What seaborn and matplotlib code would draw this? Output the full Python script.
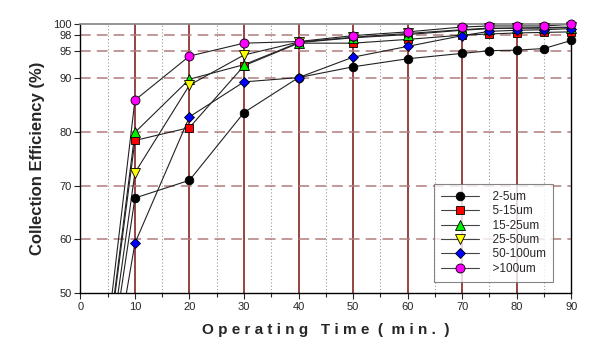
import numpy as np
import pandas as pd
import matplotlib
matplotlib.use("Agg")
import matplotlib.pyplot as plt
import seaborn as sns
from matplotlib.lines import Line2D

# operating time (min.), the curves start from (0, 0)
time = [0, 10, 20, 30, 40, 50, 60, 70, 75, 80, 85, 90]

eff_2_5 = [0, 67.7, 71.0, 83.6, 90.1, 92.1, 93.6, 94.6, 95.1, 95.2, 95.5, 97.0]
eff_5_15 = [0, 78.4, 80.8, 92.3, 96.5, 96.5, 97.2, 98.0, 98.2, 98.4, 98.5, 98.6]
eff_15_25 = [0, 79.9, 89.8, 92.5, 96.6, 97.5, 98.1, 98.9, 99.2, 99.3, 99.3, 99.4]
eff_25_50 = [0, 72.4, 88.7, 94.3, 96.7, 97.6, 98.3, 99.0, 99.3, 99.3, 99.4, 99.5]
eff_50_100 = [0, 59.3, 82.8, 89.3, 90.1, 93.9, 95.9, 97.9, 98.7, 98.9, 99.0, 99.2]
eff_100 = [0, 85.9, 94.1, 96.5, 96.8, 97.9, 98.6, 99.5, 99.7, 99.7, 99.7, 100.0]

labels = ["2-5um", "5-15um", "15-25um", "25-50um", "50-100um", ">100um"]
series = [eff_2_5, eff_5_15, eff_15_25, eff_25_50, eff_50_100, eff_100]
colors = ["black", "#ff0000", "#00ee00", "#ffff00", "#0000ff", "#ff00ff"]
markers = ["o", "s", "^", "v", "D", "o"]
sizes = [6.2, 5.6, 6.5, 6.5, 5.4, 6.5]

rows = []
for lab, vals in zip(labels, series):
    for t, v in zip(time, vals):
        rows.append({"time": t, "eff": v, "size": lab})
df = pd.DataFrame(rows)

sns.set_theme(style="white")
plt.rcParams["font.family"] = ["Liberation Sans", "DejaVu Sans"]

fig = plt.figure(figsize=(6, 3.58), dpi=100)
ax = fig.add_axes([0.134, 0.181, 0.818, 0.751])

# grid
for x in range(10, 90, 10):
    ax.axvline(x, color="#7a1010", lw=1.1, zorder=1)
for x in range(5, 90, 10):
    ax.axvline(x, color="#999999", lw=0.8, ls=(0, (1, 2)), zorder=1)
for y in [60, 70, 80, 90, 95, 98]:
    ax.axhline(y, color="#b07c7c", lw=1.1, ls=(0, (7, 4)), zorder=1)

# connecting lines
sns.lineplot(data=df, x="time", y="eff", units="size", estimator=None,
             color="#222222", lw=0.8, ax=ax, legend=False, zorder=2)

# markers (skip the origin)
mk = df[df["time"] > 0]
for lab, c, m, s in zip(labels, colors, markers, sizes):
    d = mk[mk["size"] == lab]
    ax.plot(d["time"], d["eff"], ls="none", marker=m, ms=s, mfc=c,
            mec="black", mew=0.6, zorder=3, clip_on=False)

ax.set_xlim(0, 90)
ax.set_ylim(50, 100)
ax.set_xticks(range(0, 91, 10))
ax.set_xticks(range(5, 90, 10), minor=True)
ax.set_yticks([50, 60, 70, 80, 90, 95, 98, 100])
ax.tick_params(axis="both", which="major", labelsize=8, length=4, width=0.8,
               direction="out", bottom=True, left=True, pad=2)
ax.tick_params(axis="x", which="minor", length=3, width=0.8, direction="out", bottom=True)

for side in ["left", "bottom", "right"]:
    ax.spines[side].set_color("black")
    ax.spines[side].set_linewidth(1.0)
ax.spines["top"].set_color("#888888")

ax.set_xlabel("O p e r a t i n g   T i m e  (  m i n .  )", fontsize=11,
              fontweight="bold", labelpad=8)
ax.set_ylabel("Collection Efficiency (%)", fontsize=12, fontweight="bold", labelpad=6)

handles = [Line2D([0], [0], color="#444444", lw=0.8, marker=m, ms=s, mfc=c,
                  mec="black", mew=0.6)
           for c, m, s in zip(colors, markers, sizes)]
leg = ax.legend(handles, ["  " + l for l in labels], loc="lower right",
                bbox_to_anchor=(0.975, 0.02), fontsize=8.5, frameon=True,
                fancybox=False, edgecolor="#666666", handlelength=3.2,
                labelspacing=0.2, borderpad=0.6, handletextpad=0.6)
leg.get_frame().set_linewidth(0.8)
leg.set_zorder(5)

fig.savefig("out.png", dpi=100)
